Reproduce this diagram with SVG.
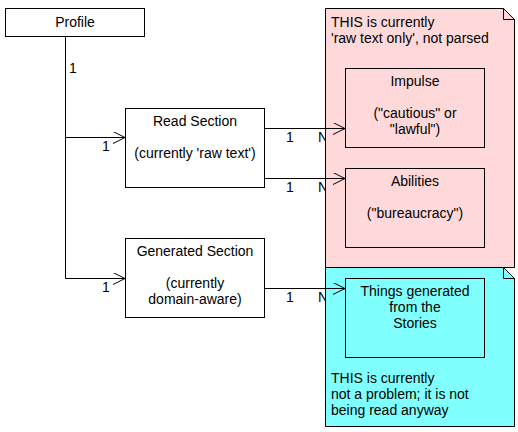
<svg xmlns="http://www.w3.org/2000/svg" width="518" height="432" viewBox="0 0 518 432">
<style>
text{font-family:"Liberation Sans",Arial,sans-serif;font-size:14px;fill:#000}
.c{text-anchor:middle}
.box{fill:#fff;stroke:#000;stroke-width:1}
.inner{fill:none;stroke:#000;stroke-width:1}
.note{stroke:#000;stroke-width:1}
.fold{fill:none;stroke:#000;stroke-width:1}
.edge{fill:none;stroke:#000;stroke-width:1}
</style>
<defs>
<marker id="open" viewBox="0 0 12 12" refX="12" refY="6" markerWidth="12" markerHeight="12" markerUnits="userSpaceOnUse" orient="auto">
<path d="M0,0 L12,6 L0,12" fill="none" stroke="#000" stroke-width="1"/>
</marker>
</defs>
<rect width="518" height="432" fill="#fff"/>
<g id="profile">
<rect class="box" x="5.5" y="8.5" width="139" height="28"/>
<text class="c" x="75" y="27">Profile</text>
</g>
<g id="read-section">
<rect class="box" x="125.5" y="108.5" width="139" height="79"/>
<text class="c" x="195" y="126">Read Section</text>
<text class="c" x="195" y="158">(currently 'raw text')</text>
</g>
<g id="generated-section">
<rect class="box" x="125.5" y="238.5" width="139" height="79"/>
<text class="c" x="195" y="256">Generated Section</text>
<text class="c" x="195" y="288">(currently</text>
<text class="c" x="195" y="304">domain-aware)</text>
</g>
<g id="labels">
<text x="69" y="73">1</text>
<text x="102" y="151">1</text>
<text x="102" y="292">1</text>
<text x="286" y="142">1</text>
<text x="318" y="142">N</text>
<text x="286" y="192">1</text>
<text x="318" y="192">N</text>
<text x="286" y="302">1</text>
<text x="318" y="302">N</text>
</g>
<g id="note-raw">
<path class="note" fill="#ffd9d9" d="M325.5,8.5 H503.5 L514.5,19.5 V267.5 H325.5 Z"/>
<path class="fold" d="M503.5,8.5 V19.5 H514.5"/>
<text x="331" y="27">THIS is currently</text>
<text x="331" y="43">'raw text only', not parsed</text>
</g>
<g id="note-generated">
<path class="note" fill="#80ffff" d="M325.5,267.5 H503.5 L514.5,278.5 V426.5 H325.5 Z"/>
<path class="fold" d="M503.5,267.5 V278.5 H514.5"/>
<text x="331" y="383">THIS is currently</text>
<text x="331" y="399">not a problem; it is not</text>
<text x="331" y="415">being read anyway</text>
</g>
<g id="impulse">
<rect class="inner" x="345.5" y="68.5" width="139" height="79"/>
<text class="c" x="415" y="86">Impulse</text>
<text class="c" x="415" y="118">("cautious" or</text>
<text class="c" x="415" y="134">"lawful")</text>
</g>
<g id="abilities">
<rect class="inner" x="345.5" y="168.5" width="139" height="79"/>
<text class="c" x="415" y="186">Abilities</text>
<text class="c" x="415" y="218">("bureaucracy")</text>
</g>
<g id="things">
<rect class="inner" x="345.5" y="278.5" width="139" height="79"/>
<text class="c" x="415" y="296">Things generated</text>
<text class="c" x="415" y="312">from the</text>
<text class="c" x="415" y="328">Stories</text>
</g>
<g id="connectors">
<path class="edge" d="M65.5,37 V278.5 H125" marker-end="url(#open)"/>
<path class="edge" d="M65.5,137.5 H125" marker-end="url(#open)"/>
<path class="edge" d="M265,128.5 H345" marker-end="url(#open)"/>
<path class="edge" d="M265,178.5 H345" marker-end="url(#open)"/>
<path class="edge" d="M265,288.5 H345" marker-end="url(#open)"/>
</g>
</svg>
